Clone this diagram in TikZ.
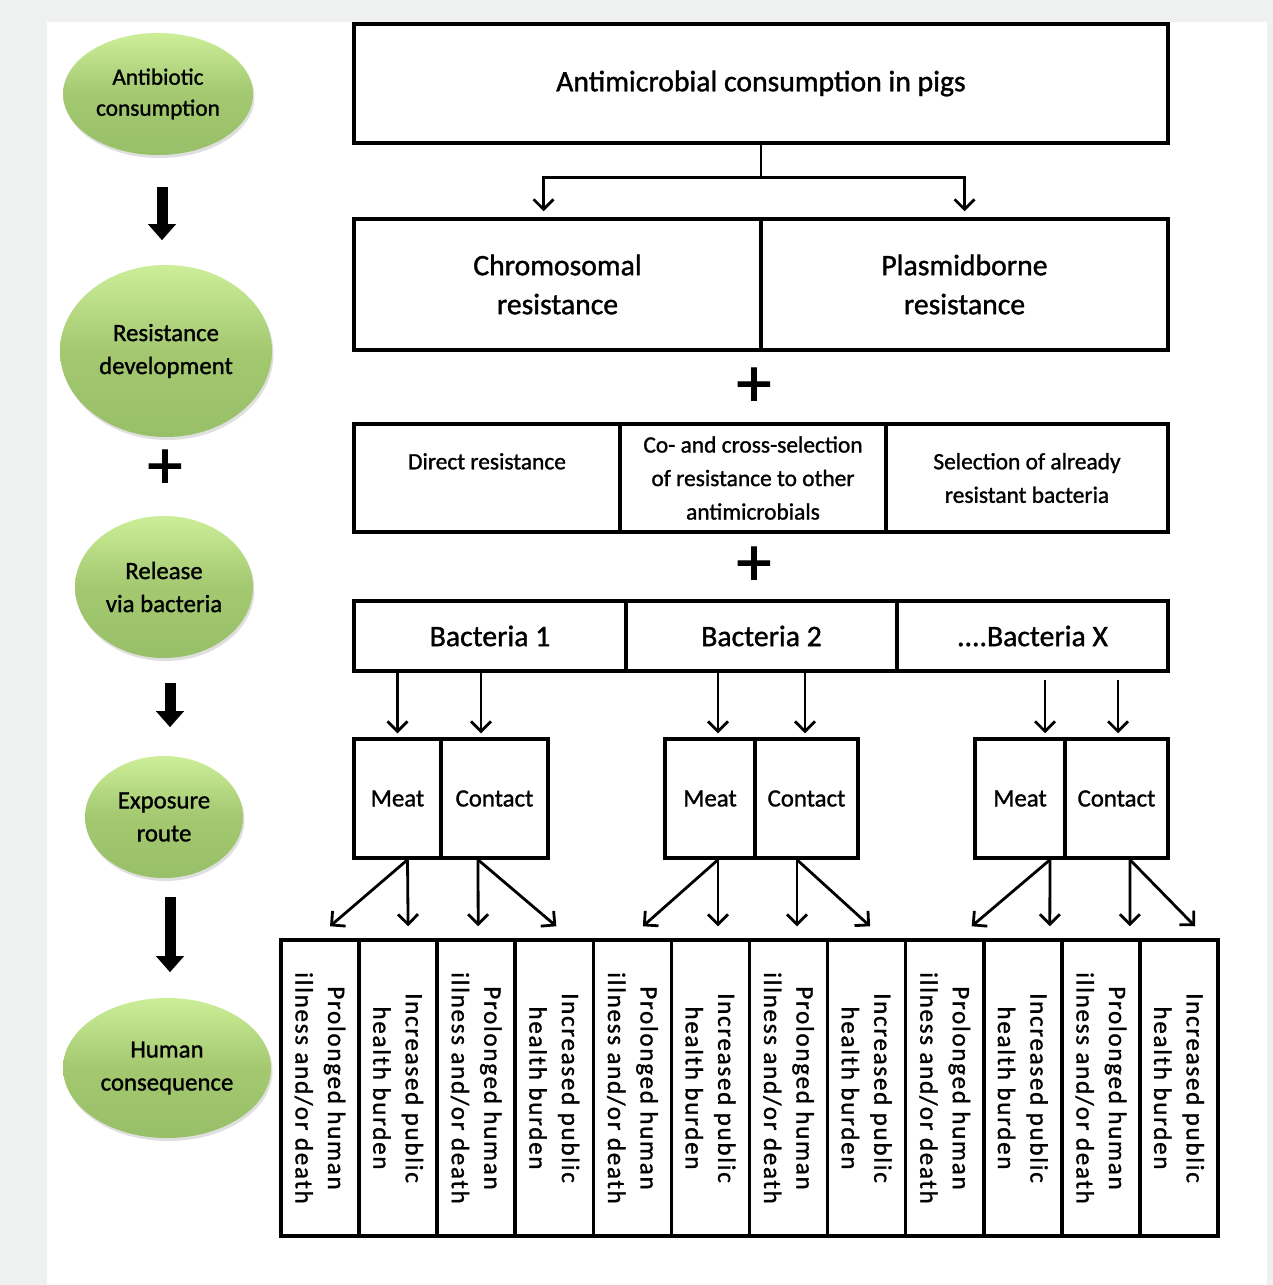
\documentclass[tikz,border=0pt]{standalone}
\usepackage{fontspec}
\setmainfont{Carlito}[FakeBold=1.2]
\newfontfamily\spacedfont[LetterSpace=7,FakeBold=1.2]{Carlito}
\usepackage{xcolor}
\usepackage{tikz}
\usetikzlibrary{
	arrows.meta,shapes.geometric,shadows
}

\definecolor{pagegray}{RGB}{239,241,240}
\definecolor{ellTop}{RGB}{204,238,152}
\definecolor{ellMid}{RGB}{163,200,112}
\definecolor{ellBot}{RGB}{152,192,104}

\newcommand{\boxfont}{\fontsize{29.7}{39}\selectfont}
\newcommand{\smallboxfont}{\fontsize{23.4}{33.5}\selectfont}
\newcommand{\ellfont}{\fontsize{24.8}{33}\selectfont}
\newcommand{\vertfont}{\spacedfont\fontsize{25}{32.5}\selectfont}
\newcommand{\plusfont}{\fontsize{70}{70}\selectfont}

\tikzset{
	cell/.style={draw,line width=3.5pt,inner sep=0pt,align=center},
	ell/.style={ellipse,inner sep=0pt,align=center,font=\ellfont,
		top color=ellTop,bottom color=ellBot,middle color=ellMid,
		drop shadow={shadow xshift=1.5pt,shadow yshift=-3pt,opacity=.25}},
	plus/.style={inner sep=0pt,font=\plusfont},
	outcell/.style={cell,rotate=-90,minimum width=296,minimum height=78.08,font=\vertfont},
	blockarrow/.style={line width=11pt,-{Triangle[width=27pt,length=16pt]}},
	arr/.style={line width=2.8pt,-{Straight Barb[length=10pt,width=20pt]}}
}

\begin{document}
\begin{tikzpicture}[x=1pt,y=-1pt]
		\fill[pagegray] (0,0) rectangle (1273,1285);
		\fill[white] (47,22) rectangle (1267,1285);
		\useasboundingbox (0,0) rectangle (1273,1285);
		%
		% left column
		\node[ell,minimum width=190,minimum height=122,font=\fontsize{23.3}{31}\selectfont] (antib) at (158,94) {Antibiotic\\consumption};
		\node[ell,minimum width=212,minimum height=172] (resdev) at (166,351) {Resistance\\development};
		\node[plus] (plusA) at (165,469) {+};
		\node[ell,minimum width=178,minimum height=142] (release) at (164,587) {Release\\via bacteria};
		\node[ell,minimum width=158,minimum height=122] (expo) at (164,817) {Exposure\\route};
		\node[ell,minimum width=208,minimum height=140] (human) at (167,1068) {Human\\consequence};
		%
		% top boxes
		\node[cell,minimum width=814,minimum height=119,font=\boxfont] (pigs) at (761,83.5) {Antimicrobial consumption in pigs};
		\node[cell,minimum width=407,minimum height=131,font=\boxfont] (chrom) at (557.5,284.5) {Chromosomal\\resistance};
		\node[cell,minimum width=407,minimum height=131,font=\boxfont] (plasmid) at (964.5,284.5) {Plasmidborne\\resistance};
		\node[plus] (plusB) at (754,387) {+};
		\node[cell,minimum width=266,minimum height=108,font=\smallboxfont] (direct) at (487,478) {Direct resistance\\\mbox{}};
		\node[cell,minimum width=266,minimum height=108,font=\smallboxfont] (cosel) at (753,478) {Co- and cross-selection\\of resistance to other\\antimicrobials};
		\node[cell,minimum width=282,minimum height=108,font=\smallboxfont] (selected) at (1027,478) {Selection of already\\resistant bacteria};
		\node[plus] (plusC) at (754,566) {+};
		\node[cell,minimum width=272,minimum height=70,font=\boxfont] (bact1) at (490,636) {Bacteria 1};
		\node[cell,minimum width=271,minimum height=70,font=\boxfont] (bact2) at (761.5,636) {Bacteria 2};
		\node[cell,minimum width=271,minimum height=70,font=\boxfont] (bactx) at (1032.5,636) {....Bacteria X};
		%
		% exposure routes
		\node[cell,minimum width=87,minimum height=119,font=\ellfont] (meat1) at (397.5,798.5) {Meat};
		\node[cell,minimum width=107,minimum height=119,font=\ellfont] (contact1) at (494.5,798.5) {Contact};
		\node[cell,minimum width=90,minimum height=119,font=\ellfont] (meat2) at (710,798.5) {Meat};
		\node[cell,minimum width=103,minimum height=119,font=\ellfont] (contact2) at (806.5,798.5) {Contact};
		\node[cell,minimum width=90,minimum height=119,font=\ellfont] (meat3) at (1020,798.5) {Meat};
		\node[cell,minimum width=103,minimum height=119,font=\ellfont] (contact3) at (1116.5,798.5) {Contact};
		%
		% consequences
		\node[outcell] (ill1) at (320.0,1088) {Prolonged human\\illness and/or death};
		\node[outcell] (bur1) at (398.1,1088) {Increased public\\health burden};
		\node[outcell] (ill2) at (476.2,1088) {Prolonged human\\illness and/or death};
		\node[outcell] (bur2) at (554.3,1088) {Increased public\\health burden};
		\node[outcell] (ill3) at (632.4,1088) {Prolonged human\\illness and/or death};
		\node[outcell] (bur3) at (710.5,1088) {Increased public\\health burden};
		\node[outcell] (ill4) at (788.5,1088) {Prolonged human\\illness and/or death};
		\node[outcell] (bur4) at (866.6,1088) {Increased public\\health burden};
		\node[outcell] (ill5) at (944.7,1088) {Prolonged human\\illness and/or death};
		\node[outcell] (bur5) at (1022.8,1088) {Increased public\\health burden};
		\node[outcell] (ill6) at (1100.9,1088) {Prolonged human\\illness and/or death};
		\node[outcell] (bur6) at (1179.0,1088) {Increased public\\health burden};
		%
		% block arrows, left column
		\draw[blockarrow] ([xshift=4pt,yshift=-32pt]antib.south) -- ([xshift=4pt,yshift=-85pt]antib.south);
		\draw[blockarrow] ([xshift=6pt,yshift=-25pt]release.south) -- ([xshift=6pt,yshift=-69pt]release.south);
		\draw[blockarrow] ([xshift=6pt,yshift=-19pt]expo.south) -- ([xshift=6pt,yshift=-94pt]expo.south);
		%
		% split below the top box
		\draw[line width=2.8pt] (pigs.south) -- ++(0,33) coordinate (split);
		\draw[arr] (split) -| ([xshift=-14pt,yshift=6pt]chrom.north);
		\draw[arr] (split) -| ([yshift=6pt]plasmid.north);
		%
		\path[arr,shorten >=4pt]
		% bacteria to routes
		(meat1.north |- bact1.south) edge (meat1.north)
		([xshift=-13.5pt]contact1.north |- bact1.south) edge ([xshift=-13.5pt]contact1.north)
		([xshift=8pt]meat2.north |- bact2.south) edge ([xshift=8pt]meat2.north)
		([xshift=-1.5pt]contact2.north |- bact2.south) edge ([xshift=-1.5pt]contact2.north)
		([xshift=25pt,yshift=-7pt]meat3.north |- bactx.south) edge ([xshift=25pt]meat3.north)
		([xshift=1.5pt,yshift=-7pt]contact3.north |- bactx.south) edge ([xshift=1.5pt]contact3.north);
		%
		\path[arr]
		% routes to consequences
		([xshift=10pt]meat1.south) edge ([xshift=10pt,yshift=12pt]ill1.west)
		([xshift=10pt]meat1.south) edge ([xshift=10pt,yshift=12pt]bur1.west)
		([xshift=-16.5pt]contact1.south) edge ([xshift=2pt,yshift=12pt]ill2.west)
		([xshift=-16.5pt]contact1.south) edge ([xshift=2pt,yshift=12pt]bur2.west)
		([xshift=8pt]meat2.south) edge ([xshift=10.5pt,yshift=12pt]ill3.west)
		([xshift=8pt]meat2.south) edge ([xshift=7.5pt,yshift=12pt]bur3.west)
		([xshift=-9.5pt]contact2.south) edge ([xshift=8.5pt,yshift=12pt]ill4.west)
		([xshift=-9.5pt]contact2.south) edge ([xshift=3.5pt,yshift=12pt]bur4.west)
		([xshift=30pt]meat3.south) edge ([xshift=27pt,yshift=12pt]ill5.west)
		([xshift=30pt]meat3.south) edge ([xshift=27pt,yshift=12pt]bur5.west)
		([xshift=13.5pt]contact3.south) edge ([xshift=29pt,yshift=12pt]ill6.west)
		([xshift=13.5pt]contact3.south) edge ([xshift=16pt,yshift=12pt]bur6.west);
	\end{tikzpicture}
\end{document}
